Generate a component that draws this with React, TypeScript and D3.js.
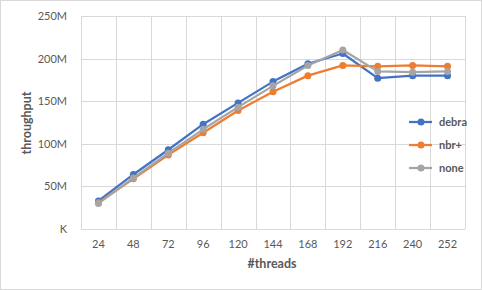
import { useEffect, useRef } from "react"
import * as d3 from "d3"

const threads = ["24", "48", "72", "96", "120", "144", "168", "192", "216", "240", "252"]
const debra = [33, 64, 93, 123, 148, 173, 194, 206, 177, 180, 180]
const nbrPlus = [31, 59, 87, 113, 139, 161, 180, 192, 191, 192, 191]
const none = [30, 60, 89, 117, 143, 168, 192, 210, 185, 184, 185]
const yTicks = [0, 50, 100, 150, 200, 250]

const series = [
  { name: "debra", color: "#4472c4", values: debra },
  { name: "nbr+", color: "#ed7d31", values: nbrPlus },
  { name: "none", color: "#a5a5a5", values: none },
]

const W = 482
const H = 290
const font = "Lato, 'Open Sans', sans-serif"

export default function App() {
  const svgRef = useRef<SVGSVGElement>(null)

  useEffect(() => {
    const svg = d3.select(svgRef.current!)
    svg.selectAll("*").remove()

    const left = 81
    const right = 465
    const top = 16
    const bottom = 229

    svg
      .append("rect")
      .attr("x", 0.5)
      .attr("y", 0.5)
      .attr("width", W - 1)
      .attr("height", H - 1)
      .attr("fill", "#fff")
      .attr("stroke", "#d9d9d9")

    const x = d3.scaleBand<string>().domain(threads).range([left, right])
    const y = d3.scaleLinear().domain([0, 250]).range([bottom, top])

    // horizontal gridlines
    svg
      .append("g")
      .selectAll("line")
      .data(yTicks)
      .enter()
      .append("line")
      .attr("x1", left)
      .attr("x2", right)
      .attr("y1", (d) => Math.round(y(d)) + 0.5)
      .attr("y2", (d) => Math.round(y(d)) + 0.5)
      .attr("stroke", "#d9d9d9")

    // vertical gridlines between categories
    const edges = threads.map((t) => x(t)!).concat([right])
    svg
      .append("g")
      .selectAll("line")
      .data(edges)
      .enter()
      .append("line")
      .attr("x1", (d) => Math.round(d) + 0.5)
      .attr("x2", (d) => Math.round(d) + 0.5)
      .attr("y1", top)
      .attr("y2", bottom)
      .attr("stroke", "#d9d9d9")

    // y tick labels
    svg
      .append("g")
      .selectAll("text")
      .data(yTicks)
      .enter()
      .append("text")
      .attr("x", 67)
      .attr("y", (d) => y(d) + 4)
      .attr("text-anchor", "end")
      .attr("font-family", font)
      .attr("font-size", 11)
      .attr("fill", "#595959")
      .text((d) => (d === 0 ? "K" : `${d}M`))

    // x tick labels
    svg
      .append("g")
      .selectAll("text")
      .data(threads)
      .enter()
      .append("text")
      .attr("x", (d) => x(d)! + x.bandwidth() / 2)
      .attr("y", 248)
      .attr("text-anchor", "middle")
      .attr("font-family", font)
      .attr("font-size", 11)
      .attr("fill", "#595959")
      .text((d) => d)

    // axis titles
    svg
      .append("text")
      .attr("transform", `translate(31,123) rotate(-90)`)
      .attr("text-anchor", "middle")
      .attr("font-family", font)
      .attr("font-size", 12.5)
      .attr("font-weight", 700)
      .attr("fill", "#595959")
      .text("throughput")

    svg
      .append("text")
      .attr("x", 272)
      .attr("y", 268)
      .attr("text-anchor", "middle")
      .attr("font-family", font)
      .attr("font-size", 12.5)
      .attr("font-weight", 700)
      .attr("fill", "#595959")
      .text("#threads")

    const line = d3
      .line<number>()
      .x((_, i) => x(threads[i])! + x.bandwidth() / 2)
      .y((d) => y(d))

    series.forEach((s) => {
      const g = svg.append("g")
      g.append("path")
        .attr("d", line(s.values))
        .attr("fill", "none")
        .attr("stroke", s.color)
        .attr("stroke-width", 2.25)
        .attr("stroke-linejoin", "round")
      g.selectAll("circle")
        .data(s.values)
        .enter()
        .append("circle")
        .attr("cx", (_, i) => x(threads[i])! + x.bandwidth() / 2)
        .attr("cy", (d) => y(d))
        .attr("r", 3.5)
        .attr("fill", s.color)
    })

    // legend
    const lg = svg.append("g")
    series.forEach((s, i) => {
      const ly = 122 + i * 23
      lg.append("line")
        .attr("x1", 409)
        .attr("x2", 432)
        .attr("y1", ly)
        .attr("y2", ly)
        .attr("stroke", s.color)
        .attr("stroke-width", 2.25)
      lg.append("circle").attr("cx", 421).attr("cy", ly).attr("r", 3.5).attr("fill", s.color)
      lg.append("text")
        .attr("x", 439)
        .attr("y", ly + 4)
        .attr("font-family", font)
        .attr("font-size", 11)
        .attr("font-weight", 700)
        .attr("fill", "#595959")
        .text(s.name)
    })
  }, [])

  return (
    <svg
      ref={svgRef}
      width={W}
      height={H}
      style={{ position: "absolute", left: 0, top: 0, display: "block" }}
    />
  )
}
